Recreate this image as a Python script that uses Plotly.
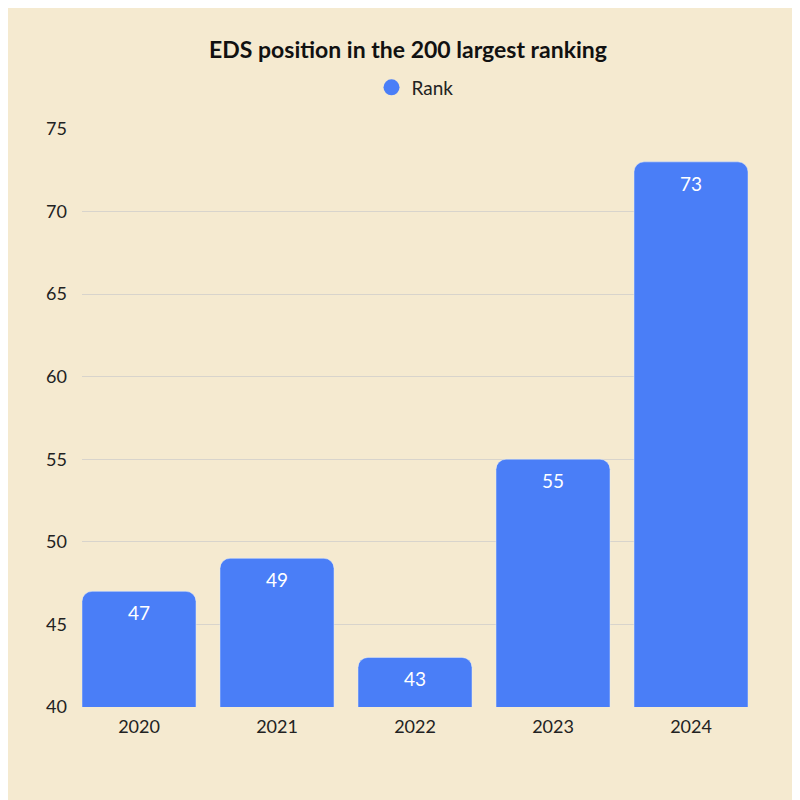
import plotly.graph_objects as go

years = ["2020", "2021", "2022", "2023", "2024"]
ranks = [47, 49, 43, 55, 73]
y_ticks = [40, 45, 50, 55, 60, 65, 70, 75]

fig = go.Figure()
fig.add_trace(go.Bar(
    x=years, y=ranks, name="Rank", text=[str(v) for v in ranks],
    textposition="inside", insidetextanchor="end",
    textfont=dict(color="white", size=19, family="Lato"),
    marker=dict(color="#4a7ef7", cornerradius=10),
    showlegend=False,
))
fig.add_trace(go.Scatter(
    x=[None], y=[None], mode="markers", name="Rank",
    marker=dict(color="#4a7ef7", size=22, symbol="circle"),
))
fig.update_layout(
    width=800, height=800,
    paper_bgcolor="#f5ead0", plot_bgcolor="rgba(0,0,0,0)",
    margin=dict(l=74, r=60, t=120, b=101),
    font=dict(family="Lato", color="#222", size=18),
    title=dict(text="<b>EDS position in the 200 largest ranking</b>", x=0.5, xanchor="center",
               y=0.947, yanchor="middle", font=dict(size=23, color="#111")),
    legend=dict(orientation="h", x=0.5, xanchor="center", y=1.07, yanchor="middle",
                font=dict(size=19)),
    bargap=0.174,
    xaxis=dict(showgrid=False, ticks="", tickfont=dict(size=18), range=[-0.413, 4.413],
               ticklabelstandoff=7),
    yaxis=dict(range=[40, 75.05], tickvals=y_ticks, showgrid=True, gridcolor="#d8d4cc",
               zeroline=False, tickfont=dict(size=18), ticklabelstandoff=14),
)
fig.write_html("out.html")
